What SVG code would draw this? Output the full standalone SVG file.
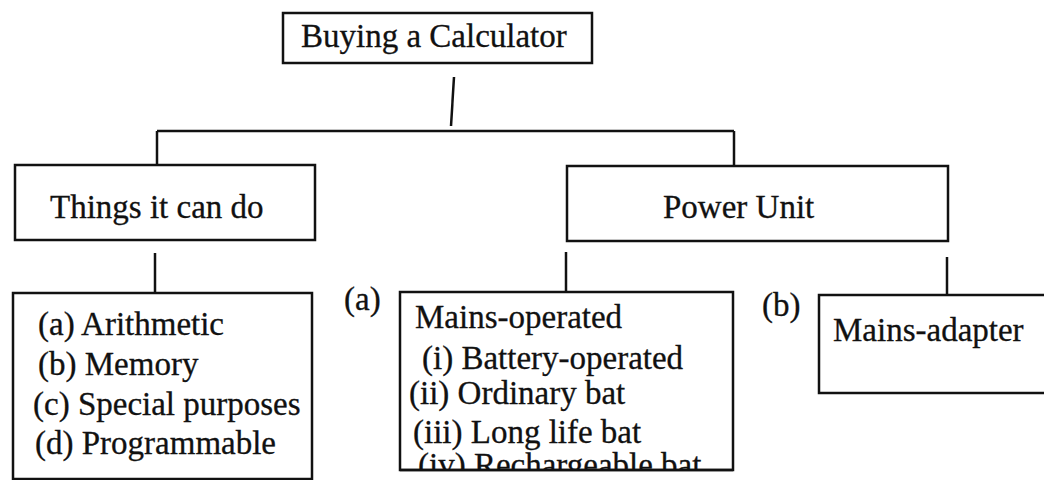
<svg xmlns="http://www.w3.org/2000/svg" width="1044" height="480" viewBox="0 0 1044 480">
<style>
.box{fill:#fff;stroke:#111;stroke-width:2.5}
.t{font-family:"Liberation Serif","Times New Roman",serif;font-size:33px;fill:#111;stroke:#111;stroke-width:0.3}
.c{fill:none;stroke:#111;stroke-width:2.5}
</style>
<defs>
<clipPath id="clipMains"><rect x="400" y="292" width="333" height="178"/></clipPath>
</defs>
<rect width="1044" height="480" fill="#fff"/>
<g id="connectors">
<path class="c" d="M454,77 L451,126"/>
<path class="c" d="M157,131 H734"/>
<path class="c" d="M157,131 V165"/>
<path class="c" d="M734,131 V166"/>
<path class="c" d="M155,253 V293"/>
<path class="c" d="M566,252 V292"/>
<path class="c" d="M947,257 V295"/>
</g>
<g id="root">
<rect class="box" x="283" y="13" width="309" height="50"/>
<text class="t" x="301" y="47">Buying a Calculator</text>
</g>
<g id="things">
<rect class="box" x="15" y="165" width="300" height="75"/>
<text class="t" x="50" y="218">Things it can do</text>
</g>
<g id="power">
<rect class="box" x="567" y="166" width="381" height="75"/>
<text class="t" x="663" y="218">Power Unit</text>
</g>
<g id="functions">
<rect class="box" x="13" y="293" width="299" height="186"/>
<text class="t" x="38" y="335">(a) Arithmetic</text>
<text class="t" x="38" y="375">(b) Memory</text>
<text class="t" x="33" y="415">(c) Special purposes</text>
<text class="t" x="35" y="454">(d) Programmable</text>
</g>
<g id="mains">
<text class="t" x="344" y="310">(a)</text>
<rect class="box" x="400" y="292" width="333" height="178"/>
<g clip-path="url(#clipMains)">
<text class="t" x="415" y="328">Mains-operated</text>
<text class="t" x="422" y="369">(i) Battery-operated</text>
<text class="t" x="409" y="404">(ii) Ordinary bat</text>
<text class="t" x="413" y="443">(iii) Long life bat</text>
<text class="t" x="418" y="476">(iv) Rechargeable bat</text>
</g>
<path class="c" d="M400,470 H733"/>
</g>
<g id="adapter">
<text class="t" x="762" y="316">(b)</text>
<rect class="box" x="819" y="295" width="240" height="98"/>
<text class="t" x="833" y="341">Mains-adapter</text>
</g>
</svg>
